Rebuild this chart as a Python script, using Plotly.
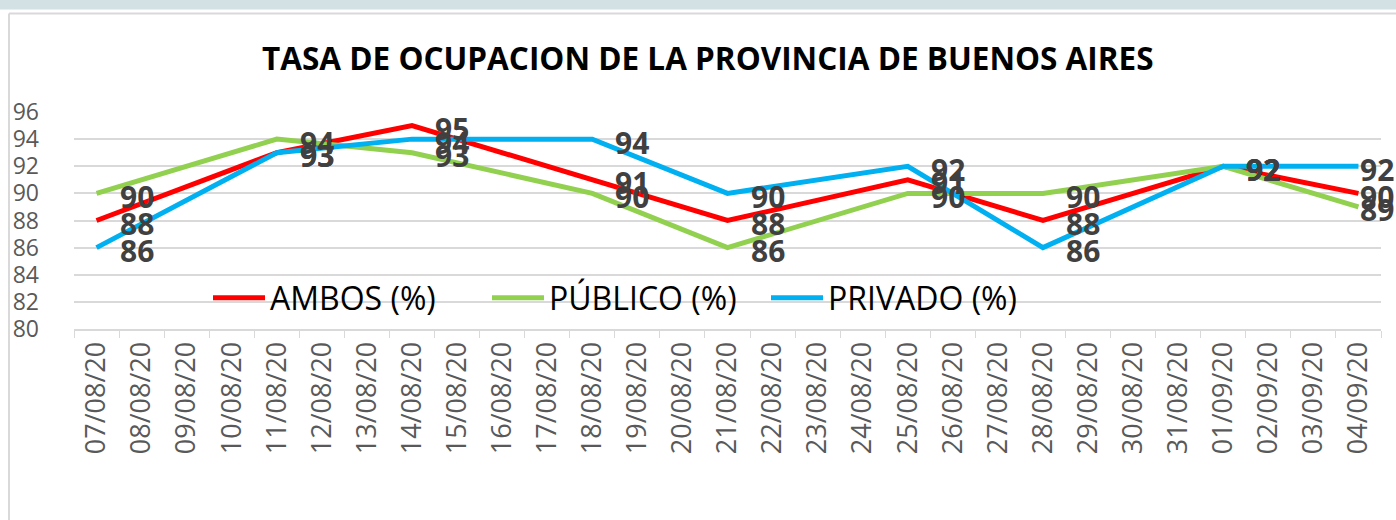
import plotly.graph_objects as go

dates = ["07/08/20", "08/08/20", "09/08/20", "10/08/20", "11/08/20", "12/08/20",
         "13/08/20", "14/08/20", "15/08/20", "16/08/20", "17/08/20", "18/08/20",
         "19/08/20", "20/08/20", "21/08/20", "22/08/20", "23/08/20", "24/08/20",
         "25/08/20", "26/08/20", "27/08/20", "28/08/20", "29/08/20", "30/08/20",
         "31/08/20", "01/09/20", "02/09/20", "03/09/20", "04/09/20"]

report_dates = ["07/08/20", "11/08/20", "14/08/20", "18/08/20", "21/08/20",
                "25/08/20", "28/08/20", "01/09/20", "04/09/20"]
ambos = [88, 93, 95, 91, 88, 91, 88, 92, 90]
publico = [90, 94, 93, 90, 86, 90, 90, 92, 89]
privado = [86, 93, 94, 94, 90, 92, 86, 92, 92]

series = [
    ("AMBOS (%)", ambos, "#FF0000"),
    ("PÚBLICO (%)", publico, "#92D050"),
    ("PRIVADO (%)", privado, "#00B0F0"),
]

W, H = 1396, 520
L, R, T, B = 74, 15, 112, 191
pw, ph = W - L - R, H - T - B

def px_x(x):
    return (x - L) / pw

def px_y(y):
    return (H - B - y) / ph

fig = go.Figure()
annotations = []
for name, vals, color in series:
    fig.add_trace(go.Scatter(
        x=report_dates, y=vals, name=name, mode="lines",
        line=dict(color=color, width=5), connectgaps=True,
    ))
for name, vals, color in series:
    for i, (d, v) in enumerate(zip(report_dates, vals)):
        annotations.append(dict(
            x=d, y=v, xref="x", yref="y", text=str(v), showarrow=False,
            xanchor="center", yanchor="middle",
            xshift=(19 if i == len(vals) - 1 else 40), yshift=-3,
            font=dict(family="Open Sans", size=30, color="#404040", weight="bold"),
        ))

annotations.append(dict(
    x=px_x(708), y=px_y(58), xref="paper", yref="paper",
    text="<b>TASA DE OCUPACION DE LA PROVINCIA DE BUENOS AIRES</b>",
    showarrow=False, xanchor="center", yanchor="middle",
    font=dict(family="Open Sans", size=31.5, color="#000000"),
))

shapes = [
    dict(type="rect", xref="paper", yref="paper", x0=px_x(0), x1=px_x(W),
         y0=px_y(0), y1=px_y(9.5), fillcolor="#D3E0E4", line=dict(width=0), layer="below"),
    dict(type="line", xref="paper", yref="paper", x0=px_x(9), x1=px_x(W),
         y0=px_y(13.5), y1=px_y(13.5), line=dict(color="#D9D9D9", width=2)),
    dict(type="line", xref="paper", yref="paper", x0=px_x(9), x1=px_x(9),
         y0=px_y(13.5), y1=px_y(H), line=dict(color="#D9D9D9", width=2)),
]

fig.update_layout(
    width=W, height=H,
    margin=dict(l=L, r=R, t=T, b=B, autoexpand=False),
    paper_bgcolor="white", plot_bgcolor="white",
    font=dict(family="Open Sans", color="#595959"),
    showlegend=True,
    legend=dict(
        orientation="h", x=px_x(208), y=px_y(298), xanchor="left", yanchor="middle",
        font=dict(family="Open Sans", size=32, color="#000000"),
        bgcolor="rgba(0,0,0,0)", entrywidth=212, entrywidthmode="pixels",
        itemwidth=52,
    ),
    xaxis=dict(
        type="category", categoryorder="array", categoryarray=dates,
        tickmode="array", tickvals=dates, ticktext=dates,
        tickangle=-90, tickfont=dict(size=27, color="#595959"),
        showgrid=False, showline=True, linecolor="#D9D9D9", linewidth=2,
        ticks="outside", tickson="boundaries", ticklen=7, tickcolor="#D9D9D9",
        range=[-0.5, len(dates) - 0.5],
    ),
    yaxis=dict(
        range=[80, 96], dtick=2, tick0=80,
        showgrid=True, gridcolor="#D9D9D9", gridwidth=2,
        zeroline=False, showline=False,
        tickfont=dict(size=23, color="#595959"),
        ticklabelstandoff=34,
    ),
    annotations=annotations,
    shapes=shapes,
)

fig.write_html("out.html", config={"displayModeBar": False},
               post_script="document.body.style.margin='0';")
